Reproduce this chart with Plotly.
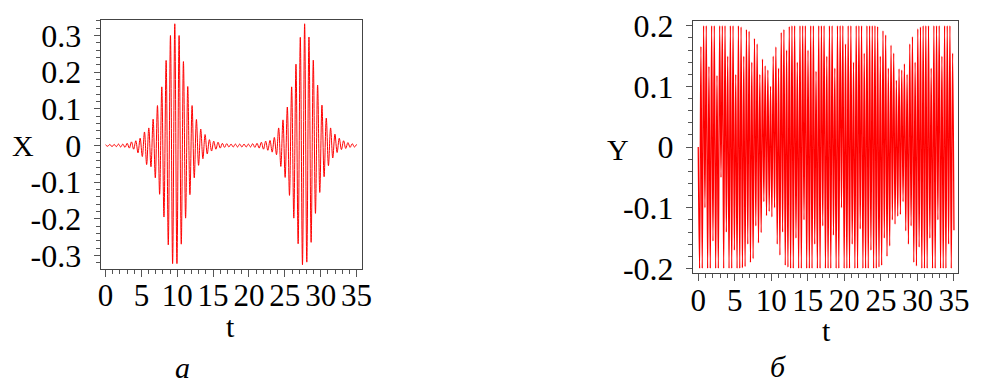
import numpy as np
import plotly.graph_objects as go

# ---- data -------------------------------------------------------------
# X(t): heights of the successive upper swings and lower swings
x_peaks = [0.002, 0.003, 0.003, 0.004, 0.004, 0.006, 0.010, 0.013, 0.020, 0.037,
           0.048, 0.072, 0.109, 0.160, 0.232, 0.300, 0.332, 0.300, 0.229, 0.161,
           0.109, 0.071, 0.045, 0.030, 0.016, 0.012, 0.009, 0.006, 0.005, 0.004,
           0.004, 0.004, 0.004, 0.004, 0.005, 0.006, 0.009, 0.012, 0.014, 0.022,
           0.048, 0.070, 0.105, 0.160, 0.222, 0.295, 0.332, 0.296, 0.233, 0.165,
           0.110, 0.075, 0.048, 0.031, 0.020, 0.013, 0.008, 0.005, 0.003]
x_troughs = [-0.002, -0.003, -0.003, -0.004, -0.005, -0.007, -0.010, -0.020, -0.030, -0.052,
             -0.058, -0.088, -0.133, -0.195, -0.271, -0.322, -0.322, -0.269, -0.198, -0.134,
             -0.088, -0.054, -0.036, -0.023, -0.015, -0.010, -0.007, -0.005, -0.004, -0.004,
             -0.004, -0.004, -0.004, -0.004, -0.005, -0.007, -0.010, -0.013, -0.018, -0.025,
             -0.057, -0.087, -0.136, -0.198, -0.268, -0.325, -0.318, -0.264, -0.185, -0.128,
             -0.085, -0.055, -0.034, -0.019, -0.011, -0.008, -0.005, -0.004]

# Y(t): upper and lower turning points of each fast cycle
y_tops = [0.0, 0.166, 0.2, 0.2, 0.133, 0.2, 0.2, 0.118, 0.2, 0.2,
          0.2, 0.15, 0.2, 0.2, 0.12, 0.2,
          0.198, 0.15, 0.194, 0.191, 0.14, 0.179, 0.17, 0.12, 0.145, 0.134,
          0.127, 0.1, 0.15, 0.165, 0.13, 0.189, 0.194, 0.16, 0.199,
          0.2, 0.2, 0.14, 0.2, 0.2, 0.2, 0.16, 0.2, 0.2, 0.125,
          0.2, 0.2, 0.2, 0.15, 0.2, 0.2, 0.13, 0.2, 0.2, 0.2,
          0.17, 0.2, 0.2, 0.14, 0.2, 0.2, 0.2, 0.155, 0.2, 0.2, 0.2,
          0.2, 0.199, 0.15, 0.192, 0.185, 0.13, 0.168, 0.155, 0.11, 0.129,
          0.127, 0.137, 0.12, 0.17, 0.182, 0.14, 0.195, 0.198, 0.2,
          0.2, 0.2, 0.13, 0.2, 0.2, 0.2, 0.15, 0.2, 0.2, 0.2, 0.155]
y_bottoms = [-0.2, -0.2, -0.1, -0.2, -0.2, -0.155, -0.2, -0.2, -0.05, -0.2,
             -0.14, -0.2, -0.2, -0.17, -0.2, -0.2,
             -0.199, -0.197, -0.16, -0.19, -0.184, -0.13, -0.158, -0.141, -0.09, -0.113,
             -0.106, -0.115, -0.1, -0.16, -0.178, -0.14, -0.195, -0.198, -0.2,
             -0.2, -0.15, -0.2, -0.2, -0.12, -0.2, -0.2, -0.2, -0.16, -0.2,
             -0.2, -0.13, -0.2, -0.2, -0.2, -0.145, -0.2, -0.2, -0.1, -0.2,
             -0.2, -0.2, -0.16, -0.2, -0.2, -0.135, -0.2, -0.2, -0.2, -0.17, -0.2,
             -0.2, -0.198, -0.195, -0.15, -0.18, -0.163, -0.12, -0.127, -0.114, -0.111,
             -0.09, -0.138, -0.16, -0.13, -0.19, -0.196, -0.165, -0.2, -0.2,
             -0.2, -0.15, -0.2, -0.2, -0.12, -0.2, -0.2, -0.2, -0.16, -0.2, -0.137]

t_end = 35.0
t_ticks = [0, 5, 10, 15, 20, 25, 30, 35]
x_ticks = [-0.3, -0.2, -0.1, 0, 0.1, 0.2, 0.3]
x_tick_text = ["-0.3", "-0.2", "-0.1", "0", "0.1", "0.2", "0.3"]
y_ticks = [-0.2, -0.1, 0, 0.1, 0.2]
y_tick_text = ["-0.2", "-0.1", "0", "0.1", "0.2"]


def interleave(upper, lower):
    out = []
    for i, u in enumerate(upper):
        out.append(u)
        if i < len(lower):
            out.append(lower[i])
    return out


x_vals = interleave(x_peaks, x_troughs)
y_vals = interleave(y_tops, y_bottoms)
t_x = np.linspace(0, t_end, len(x_vals))
t_y = np.linspace(0, t_end, len(y_vals))

# ---- figure -----------------------------------------------------------
W, H = 982, 388
FONT = "Liberation Serif, Times New Roman, serif"
AX_COL = "#444444"
TICK_COL = "#555555"


def px(x):
    return x / W


def py(y):
    return 1 - y / H


def t_axis(domain, rng, anchor):
    return dict(
        domain=domain, range=rng, anchor=anchor,
        tickmode="array", tickvals=t_ticks, ticktext=[str(v) for v in t_ticks],
        ticks="outside", ticklen=7, tickwidth=1, tickcolor=TICK_COL,
        minor=dict(tick0=0, dtick=1, ticks="outside", ticklen=4,
                   tickwidth=1, tickcolor=TICK_COL),
        showline=True, mirror=True, linecolor=AX_COL, linewidth=1,
        showgrid=False, zeroline=False, ticklabelstandoff=-8,
        ticklabeloverflow="allow",
        tickfont=dict(family=FONT, size=31, color="black"),
    )


def v_axis(domain, rng, anchor, vals, text):
    return dict(
        domain=domain, range=rng, anchor=anchor,
        tickmode="array", tickvals=vals, ticktext=text,
        ticks="outside", ticklen=6, tickwidth=1, tickcolor=TICK_COL,
        minor=dict(tick0=0, dtick=0.02, ticks="outside", ticklen=4,
                   tickwidth=1, tickcolor=TICK_COL),
        showline=True, mirror=True, linecolor=AX_COL, linewidth=1,
        showgrid=False, zeroline=False, ticklabelstandoff=6,
        ticklabeloverflow="allow",
        tickfont=dict(family=FONT, size=32, color="black"),
    )


fig = go.Figure()
fig.add_trace(go.Scatter(x=t_x, y=x_vals, mode="lines",
                         line=dict(color="#ff0000", width=1, shape="spline"),
                         xaxis="x", yaxis="y", showlegend=False,
                         hoverinfo="skip"))
fig.add_trace(go.Scatter(x=t_y, y=y_vals, mode="lines",
                         line=dict(color="#ff0000", width=1.3, shape="spline"),
                         xaxis="x2", yaxis="y2", showlegend=False,
                         hoverinfo="skip"))

fig.update_layout(
    width=W, height=H, margin=dict(l=0, r=0, t=0, b=0),
    paper_bgcolor="white", plot_bgcolor="white",
    xaxis=t_axis([px(99), px(364)], [-0.687, 35.73], "y"),
    yaxis=v_axis([py(275), py(8.3)], [-0.3375, 0.343], "x", x_ticks, x_tick_text),
    xaxis2=t_axis([px(700), px(969)], [-0.715, 35.58], "y2"),
    yaxis2=v_axis([py(279.3), py(9.3)], [-0.208, 0.2083], "x2", y_ticks, y_tick_text),
)

labels = [
    ("X", 20, 143, False),
    ("Y", 624, 147, False),
    ("t", 231, 336, False),
    ("t", 835, 340, False),
    ("a", 182, 380, True),
    ("б", 786, 379, True),
]
for text, x, y, ital in labels:
    fig.add_annotation(
        text=f"<i>{text}</i>" if ital else text,
        x=px(x), y=py(y), xref="paper", yref="paper",
        xanchor="center", yanchor="middle", showarrow=False,
        font=dict(family=FONT, size=30, color="black"),
    )

fig.write_html("out.html")
